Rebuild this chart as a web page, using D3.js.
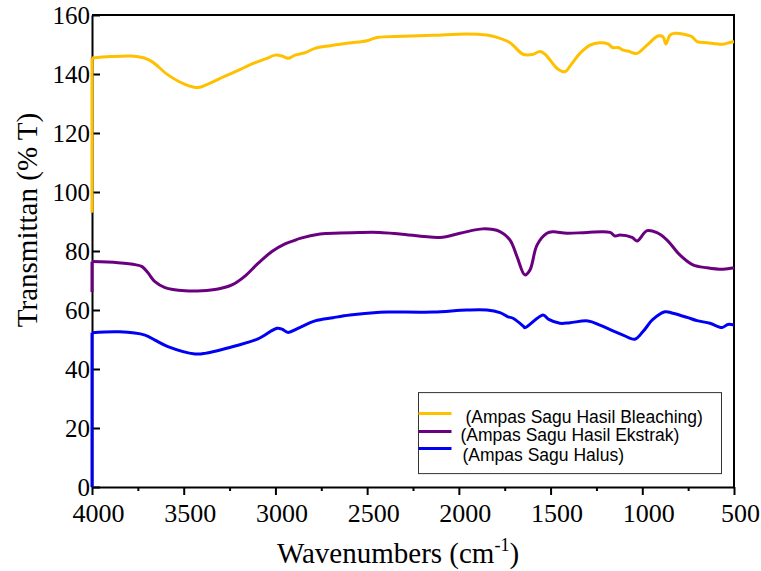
<!DOCTYPE html>
<html>
<head>
<meta charset="utf-8">
<script src="https://cdn.jsdelivr.net/npm/d3@7"></script>
<style>
  body { margin: 0; background: #fff; }
  svg { display: block; }
</style>
</head>
<body>
<div id="chart"></div>
<script>
// FTIR spectra, [wavenumber, %T]
const bleaching = [
  [4000, 93], [4000, 145.4], [3900, 145.9], [3782, 146.1], [3720, 145.5], [3673, 144.2],
  [3586, 139.7], [3493, 136.5], [3422, 135.4], [3368, 136.6], [3275, 139.3], [3200, 141.3],
  [3128, 143.4], [3050, 145.2], [3002, 146.4], [2964, 146.1], [2931, 145.3], [2893, 146.4],
  [2839, 147.2], [2784, 148.7], [2700, 149.6], [2600, 150.5], [2500, 151.3], [2446, 152.4],
  [2300, 152.8], [2140, 153.1], [1956, 153.6], [1847, 153.2], [1792, 152.4], [1721, 150.6],
  [1650, 146.7], [1600, 146.6], [1558, 147.6], [1530, 146.7], [1459, 141.6], [1421, 140.8],
  [1383, 143.6], [1340, 147.0], [1285, 149.8], [1231, 150.6], [1187, 150.2], [1160, 148.9],
  [1132, 149.0], [1105, 148.1], [1078, 147.8], [1029, 147.0], [974, 149.8], [914, 152.9],
  [887, 152.6], [871, 150.2], [849, 153.2], [822, 153.8], [740, 152.9], [724, 152.4],
  [702, 151.0], [647, 150.6], [560, 150.1], [522, 150.7], [500, 150.9]
];

const ekstrak = [
  [4000, 66.1], [4000, 76.4], [3858, 76.0], [3760, 75.3], [3727, 74.7], [3695, 72.6],
  [3657, 69.6], [3602, 67.6], [3493, 66.5], [3400, 66.5], [3313, 67.1], [3237, 68.5],
  [3166, 71.5], [3095, 75.8], [3019, 79.8], [2948, 82.4], [2900, 83.5], [2866, 84.3],
  [2757, 85.8], [2648, 86.1], [2539, 86.3], [2430, 86.3], [2321, 85.8], [2103, 84.6],
  [1994, 86.0], [1868, 87.5], [1776, 86.6], [1721, 83.7], [1683, 78.1], [1640, 71.9],
  [1612, 73.6], [1574, 82.0], [1520, 86.0], [1487, 86.5], [1410, 86.0], [1301, 86.3],
  [1176, 86.3], [1149, 85.1], [1122, 85.4], [1056, 84.6], [1029, 83.4], [974, 86.9],
  [920, 86.2], [865, 83.7], [794, 78.6], [724, 75.3], [647, 74.3], [560, 73.8], [500, 74.3]
];

const halus = [
  [4000, 0], [4000, 52.3], [3850, 52.6], [3711, 51.5], [3657, 49.8], [3586, 47.6],
  [3438, 45.1], [3384, 45.3], [3220, 47.8], [3095, 50.2], [2991, 53.8], [2964, 53.5],
  [2931, 52.4], [2877, 53.8], [2784, 56.3], [2686, 57.4], [2593, 58.3], [2430, 59.2],
  [2375, 59.3], [2141, 59.3], [1956, 60.0], [1847, 60.0], [1776, 59.1], [1732, 57.7],
  [1705, 57.2], [1650, 54.6], [1640, 54.0], [1541, 58.3], [1510, 56.8], [1449, 55.5],
  [1394, 55.7], [1296, 56.3], [1231, 54.9], [1160, 52.9], [1105, 51.5], [1040, 50.1],
  [996, 52.7], [942, 56.8], [876, 59.4], [833, 58.9], [756, 57.5], [702, 56.4],
  [631, 55.5], [565, 54.1], [533, 55.1], [500, 54.9]
];

const seriesNames = ["(Ampas Sagu Hasil Bleaching)", "(Ampas Sagu Hasil Ekstrak)", "(Ampas Sagu Halus)"];
const seriesColors = ["#FFC000", "#6A0080", "#0000F5"];
const xTicks = [4000, 3500, 3000, 2500, 2000, 1500, 1000, 500];
const yTicks = [0, 20, 40, 60, 80, 100, 120, 140, 160];

const W = 761, H = 571;
const margin = {top: 15, right: 27, bottom: 84, left: 92},
    width = W - margin.left - margin.right,
    height = H - margin.top - margin.bottom;

const serif = "Liberation Serif, Times New Roman, serif";

const svg = d3.select("#chart")
  .append("svg")
  .attr("width", W)
  .attr("height", H)
  .append("g")
  .attr("transform", `translate(${margin.left},${margin.top})`);

const x = d3.scaleLinear().domain([4000, 500]).range([0, width]);
const y = d3.scaleLinear().domain([0, 160]).range([height, 0]);

// frame (top + right)
svg.append("path")
  .attr("d", `M0,0H${width}V${height}`)
  .attr("fill", "none")
  .attr("stroke", "#000")
  .attr("stroke-width", 2);

// x axis, minor ticks first
const xAxisMinor = svg.append("g")
  .attr("transform", `translate(0,${height})`)
  .call(d3.axisBottom(x).tickValues(d3.range(3750, 500, -500)).tickSize(4).tickFormat(""));
xAxisMinor.select(".domain").remove();
xAxisMinor.selectAll("line").attr("stroke-width", 2);

const xAxis = svg.append("g")
  .attr("transform", `translate(0,${height})`)
  .call(d3.axisBottom(x).tickValues(xTicks).tickSize(8).tickSizeOuter(0)
    .tickPadding(9).tickFormat(d3.format("d")));
xAxis.select(".domain").attr("stroke-width", 2);
xAxis.selectAll("line").attr("stroke-width", 2);
xAxis.selectAll("text")
  .attr("dx", 6)
  .attr("font-family", serif)
  .attr("font-size", 26)
  .attr("fill", "#000");

const yAxis = svg.append("g")
  .call(d3.axisLeft(y).tickValues(yTicks).tickSize(-8).tickSizeOuter(0)
    .tickPadding(2).tickFormat(d3.format("d")));
yAxis.select(".domain").attr("stroke-width", 2);
yAxis.selectAll("line").attr("stroke-width", 2);
yAxis.selectAll("text")
  .attr("font-family", serif)
  .attr("font-size", 25)
  .attr("fill", "#000");

// curves on top of the axes: the vertical start at 4000 straight, the rest smoothed
const smooth = d3.line()
  .x(d => x(d[0]))
  .y(d => y(d[1]))
  .curve(d3.curveCatmullRom.alpha(0.5));
const straight = d3.line()
  .x(d => x(d[0]))
  .y(d => y(d[1]));

[bleaching, ekstrak, halus].forEach(function (s, i) {
  const g = svg.append("g")
    .attr("fill", "none")
    .attr("stroke", seriesColors[i])
    .attr("stroke-width", 3)
    .attr("stroke-linejoin", "round");
  g.append("path").datum(s.slice(0, 2)).attr("d", straight);
  g.append("path").datum(s.slice(1)).attr("d", smooth);
});

// axis titles
const xTitle = svg.append("text")
  .attr("x", 306)
  .attr("y", height + 76)
  .attr("text-anchor", "middle")
  .attr("font-family", serif)
  .attr("font-size", 29)
  .attr("fill", "#000");
xTitle.append("tspan").text("Wavenumbers (cm");
xTitle.append("tspan").attr("font-size", 18).attr("dy", -12).text("-1");
xTitle.append("tspan").attr("dy", 12).text(")");

svg.append("text")
  .attr("transform", `translate(${-55},${205}) rotate(-90)`)
  .attr("text-anchor", "middle")
  .attr("font-family", serif)
  .attr("font-size", 29)
  .attr("fill", "#000")
  .text("Transmittan (% T)");

// legend
const legend = svg.append("g")
  .attr("transform", `translate(${x(2220)},${y(32)})`);
legend.append("rect")
  .attr("width", 303)
  .attr("height", 81)
  .attr("fill", "#fff")
  .attr("stroke", "#333")
  .attr("stroke-width", 1);

const legendY = [21, 39, 56];
const legendTextX = [47, 42, 44];
const legendTextY = [30, 48, 68];
seriesNames.forEach(function (name, i) {
  legend.append("line")
    .attr("x1", 0).attr("x2", 33)
    .attr("y1", legendY[i]).attr("y2", legendY[i])
    .attr("stroke", seriesColors[i])
    .attr("stroke-width", 3);
  legend.append("text")
    .attr("x", legendTextX[i])
    .attr("y", legendTextY[i])
    .attr("font-family", "Liberation Sans, Arial, sans-serif")
    .attr("font-size", 17.5)
    .attr("fill", "#000")
    .text(name);
});
</script>
</body>
</html>
